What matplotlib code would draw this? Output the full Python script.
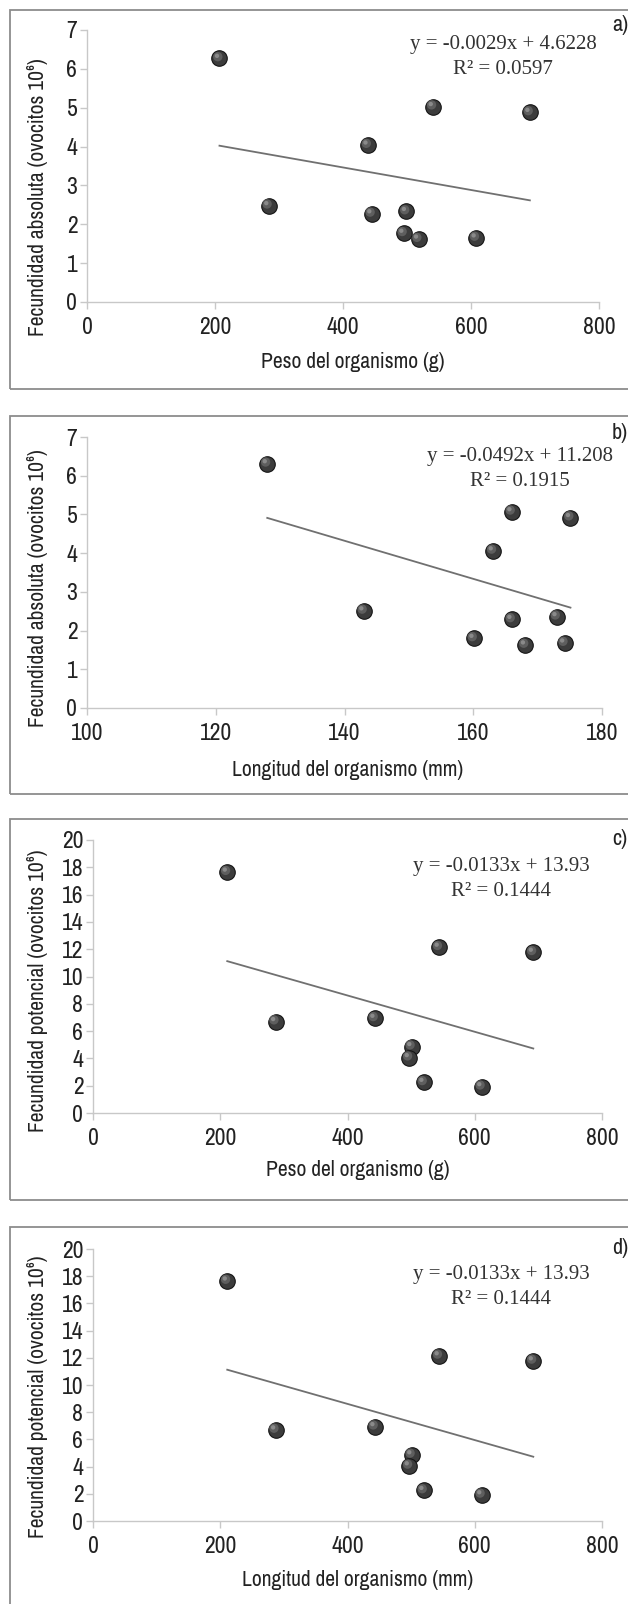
import numpy as np
import matplotlib
matplotlib.use("Agg")
import matplotlib.pyplot as plt
from matplotlib.patches import Rectangle
from matplotlib.transforms import ScaledTranslation

# data
peso_a = [207, 284, 439, 445, 499, 495, 518, 541, 608, 692]
fec_abs_a = [6.27, 2.48, 4.04, 2.27, 2.33, 1.77, 1.62, 5.03, 1.65, 4.88]

long_b = [128.0, 143.0, 160.1, 163.1, 166.0, 166.0, 168.1, 173.0, 174.2, 175.1]
fec_abs_b = [6.31, 2.51, 1.80, 4.06, 5.07, 2.29, 1.63, 2.36, 1.68, 4.92]

peso_c = [211, 287, 443, 501, 497, 520, 544, 611, 692]
fec_pot_c = [17.65, 6.70, 6.94, 4.87, 4.06, 2.25, 12.15, 1.93, 11.78]

coef_a = (-0.0029, 4.6228, 0.0597)
coef_b = (-0.0492, 11.208, 0.1915)
coef_c = (-0.0133, 13.93, 0.1444)

W, H = 628, 1604
DPI = 100
fig = plt.figure(figsize=(W / DPI, H / DPI), dpi=DPI)

SANS = ['Archivo Narrow', 'DejaVu Sans']
SERIF = ['Liberation Serif', 'DejaVu Serif']


def fx(px):
    return px / W


def fy(py):
    return 1 - py / H


def box(top, bottom):
    fig.patches.append(Rectangle((fx(10), fy(bottom)), fx(660) - fx(10), fy(top) - fy(bottom),
                                 transform=fig.transFigure, fill=False,
                                 edgecolor='#8c8c8c', linewidth=1.3))


def panel(l, r, t, b, x, y, coef, xlim, ylim, xticks, yticks, xlabel, ylabel,
          xl_pos, yl_pos, eq_pos, tag, tag_y):
    ax = fig.add_axes([fx(l), fy(b), fx(r) - fx(l), fy(t) - fy(b)])
    ax.set_xlim(*xlim)
    ax.set_ylim(*ylim)
    ax.set_xticks(xticks)
    ax.set_yticks(yticks)
    for s in ['top', 'right']:
        ax.spines[s].set_visible(False)
    for s in ['left', 'bottom']:
        ax.spines[s].set_color('#c8c8c8')
        ax.spines[s].set_linewidth(1.0)
    ax.tick_params(direction='out', length=5, width=1.0, color='#c8c8c8',
                   labelsize=17, labelcolor='#222222', pad=2)
    ax.tick_params(axis='x', pad=5.5)
    for lab in ax.get_xticklabels() + ax.get_yticklabels():
        lab.set_family(SANS)
    ax.patch.set_alpha(0)

    # trend line between min and max x
    xs = np.array([min(x), max(x)])
    ax.plot(xs, coef[0] * xs + coef[1], color='#707070', linewidth=1.3, zorder=2)

    # spherical markers
    ax.scatter(x, y, s=125, facecolor='#3c3c3c', edgecolor='#151515', linewidth=0.8, zorder=3)
    off = ax.transData + ScaledTranslation(-1.2 / 72, 1.2 / 72, fig.dpi_scale_trans)
    ax.scatter(x, y, s=45, facecolor='#5e5e5e', edgecolor='none', zorder=4, transform=off)
    off2 = ax.transData + ScaledTranslation(-1.8 / 72, 1.8 / 72, fig.dpi_scale_trans)
    ax.scatter(x, y, s=10, facecolor='#8a8a8a', edgecolor='none', zorder=5, transform=off2)

    fig.text(fx(xl_pos[0]), fy(xl_pos[1]), xlabel, ha='center', va='center',
             fontsize=15.5, family=SANS, color='#222222')
    fig.text(fx(yl_pos[0]), fy(yl_pos[1]), ylabel, ha='center', va='center',
             rotation=90, fontsize=15.5, family=SANS, color='#222222')
    sign = '-' if coef[0] < 0 else ''
    eq = 'y = %s%sx + %s' % (sign, str(abs(coef[0])), str(coef[1]))
    fig.text(fx(eq_pos[0]), fy(eq_pos[1]), eq, ha='center', va='center',
             fontsize=15, family=SERIF, color='#333333')
    fig.text(fx(eq_pos[0]), fy(eq_pos[1] + 25), 'R² = %s' % str(coef[2]), ha='center',
             va='center', fontsize=15, family=SERIF, color='#333333')
    fig.text(fx(612), fy(tag_y), tag, ha='left', va='center', fontsize=16,
             family=SANS, color='#222222')
    return ax


box(10, 389)
panel(87, 599, 30, 302, peso_a, fec_abs_a, coef_a, (0, 800), (0, 7),
      [0, 200, 400, 600, 800], range(0, 8),
      'Peso del organismo (g)', 'Fecundidad absoluta (ovocitos 10⁶)',
      (353, 362), (38, 197), (503, 44), 'a)', 25)

box(416, 794)
panel(87, 602, 437, 708, long_b, fec_abs_b, coef_b, (100, 180), (0, 7),
      [100, 120, 140, 160, 180], range(0, 8),
      'Longitud del organismo (mm)', 'Fecundidad absoluta (ovocitos 10⁶)',
      (348, 770), (38, 588), (520, 456), 'b)', 433)

box(819, 1200)
panel(93, 602, 840, 1113, peso_c, fec_pot_c, coef_c, (0, 800), (0, 20),
      [0, 200, 400, 600, 800], range(0, 21, 2),
      'Peso del organismo (g)', 'Fecundidad potencial (ovocitos 10⁶)',
      (358, 1170), (38, 991), (501, 867), 'c)', 839)

box(1227, 1660)
panel(93, 602, 1249, 1521, peso_c, fec_pot_c, coef_c, (0, 800), (0, 20),
      [0, 200, 400, 600, 800], range(0, 21, 2),
      'Longitud del organismo (mm)', 'Fecundidad potencial (ovocitos 10⁶)',
      (358, 1580), (38, 1397), (501, 1275), 'd)', 1248)

fig.savefig('out.png', dpi=DPI)
